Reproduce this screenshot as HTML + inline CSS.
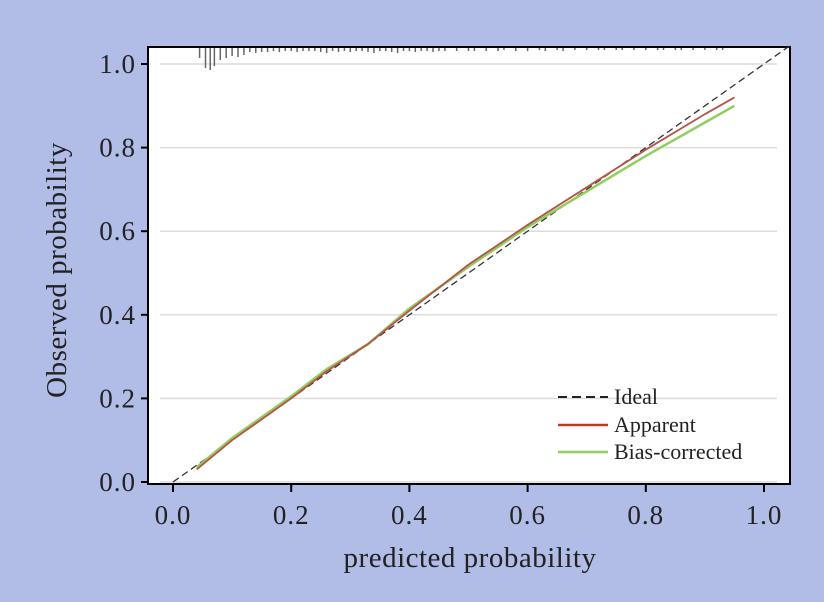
<!DOCTYPE html>
<html><head><meta charset="utf-8"><style>
html,body{margin:0;padding:0;background:#b1bde7;}
svg{display:block;font-family:"Liberation Serif",serif;}
</style></head><body>
<svg width="824" height="602">
<rect x="0" y="0" width="824" height="602" fill="#b1bde7"/>
<rect x="148" y="47" width="642" height="437" fill="#ffffff" stroke="#000" stroke-width="2"/>
<g id="grid"></g><g id="rug"></g><g id="series"></g><g id="axes"></g>
<text x="470" y="567" font-size="29" letter-spacing="0.5" text-anchor="middle" fill="#222">predicted probability</text>
<text transform="translate(66,270) rotate(-90)" font-size="29" letter-spacing="0.5" text-anchor="middle" fill="#222">Observed probability</text>
<g>
<line x1="558" y1="397" x2="608" y2="397" stroke="#222" stroke-width="2" stroke-dasharray="9,5"/>
<text x="614" y="404" font-size="22" fill="#222">Ideal</text>
<line x1="558" y1="425" x2="608" y2="425" stroke="#c0392b" stroke-width="2.5"/>
<text x="614" y="432" font-size="22" fill="#222">Apparent</text>
<line x1="558" y1="452" x2="608" y2="452" stroke="#8fce5f" stroke-width="2.5"/>
<text x="614" y="459" font-size="22" fill="#222">Bias-corrected</text>
</g>
</svg>
<script>
const xTicks=[0,0.2,0.4,0.6,0.8,1.0];
const yTicks=[0,0.2,0.4,0.6,0.8,1.0];
const tickLabels=["0.0","0.2","0.4","0.6","0.8","1.0"];
const apparentX=[0.04,0.1,0.2,0.26,0.33,0.4,0.5,0.6,0.7,0.8,0.9,0.95];
const apparentY=[0.03,0.1,0.2,0.265,0.33,0.41,0.52,0.615,0.705,0.795,0.88,0.92];
const biasX=[0.04,0.1,0.2,0.26,0.33,0.4,0.5,0.6,0.7,0.8,0.9,0.95];
const biasY=[0.035,0.105,0.205,0.27,0.33,0.415,0.515,0.61,0.695,0.78,0.86,0.9];
const rugX=[0.045,0.055,0.063,0.07,0.08,0.09,0.1,0.11,0.12,0.13,0.14,0.15,0.16,0.17,0.18,0.19,0.2,0.21,0.22,0.23,0.24,0.25,0.26,0.27,0.28,0.29,0.3,0.31,0.32,0.33,0.34,0.35,0.36,0.37,0.38,0.39,0.4,0.41,0.42,0.43,0.44,0.45,0.46,0.48,0.5,0.51,0.53,0.55,0.56,0.58,0.6,0.62,0.63,0.65,0.66,0.68,0.7,0.72,0.73,0.75,0.76,0.78,0.8,0.82,0.83,0.85,0.86,0.88,0.9,0.92,0.93];
const rugLen=[10,20,22,18,12,10,8,9,7,4,5,4,4,3,4,3,3,4,3,3,3,4,5,3,4,3,4,3,3,4,5,3,3,4,5,3,3,4,3,3,4,3,3,3,3,3,3,3,2,3,3,2,3,2,3,2,2,2,2,2,2,2,2,2,2,2,2,2,2,2,2];
const X=v=>173+v*591, Y=v=>482-v*418;
const NS="http://www.w3.org/2000/svg";
function mk(tag,attrs,parent){const e=document.createElementNS(NS,tag);for(const k in attrs)e.setAttribute(k,attrs[k]);document.getElementById(parent).appendChild(e);return e;}
yTicks.forEach((v,i)=>{
 const g=mk('line',{x1:160,x2:777,y1:Y(v),y2:Y(v),stroke:'#dcdcdc','stroke-width':1.5},'grid');
 
 
 const t=mk('line',{x1:141,x2:148,y1:Y(v),y2:Y(v),stroke:'#000','stroke-width':2},'axes');
 
 
 const l=mk('text',{x:136,y:Y(v)+9,'font-size':27,'letter-spacing':1,'text-anchor':'end',fill:'#222'},'axes');
 l.textContent=tickLabels[i];
 
 
});
xTicks.forEach((v,i)=>{
 const t=mk('line',{x1:X(v),x2:X(v),y1:484,y2:492,stroke:'#000','stroke-width':2},'axes');
 
 
 const l=mk('text',{x:X(v),y:524,'font-size':27,'letter-spacing':1,'text-anchor':'middle',fill:'#222'},'axes');
 l.textContent=tickLabels[i];
 
 
});
rugX.forEach((v,i)=>{
 const r=mk('line',{x1:X(v),x2:X(v),y1:48,y2:48+rugLen[i],stroke:'#666','stroke-width':1.5},'rug');
 
 
});
const ideal=mk('line',{x1:X(0),y1:Y(0),x2:X(1.045),y2:Y(1.045),stroke:'#333','stroke-width':1.3,'stroke-dasharray':'7,4'},'series');


function pts(xs,ys){return xs.map((x,i)=>X(x)+','+Y(ys[i])).join(' ');}
const b=mk('polyline',{points:pts(biasX,biasY),fill:'none',stroke:'#8fce5f','stroke-width':2.5},'series');


const a=mk('polyline',{points:pts(apparentX,apparentY),fill:'none',stroke:'#b5544a','stroke-width':1.8},'series');


</script>
</body></html>
